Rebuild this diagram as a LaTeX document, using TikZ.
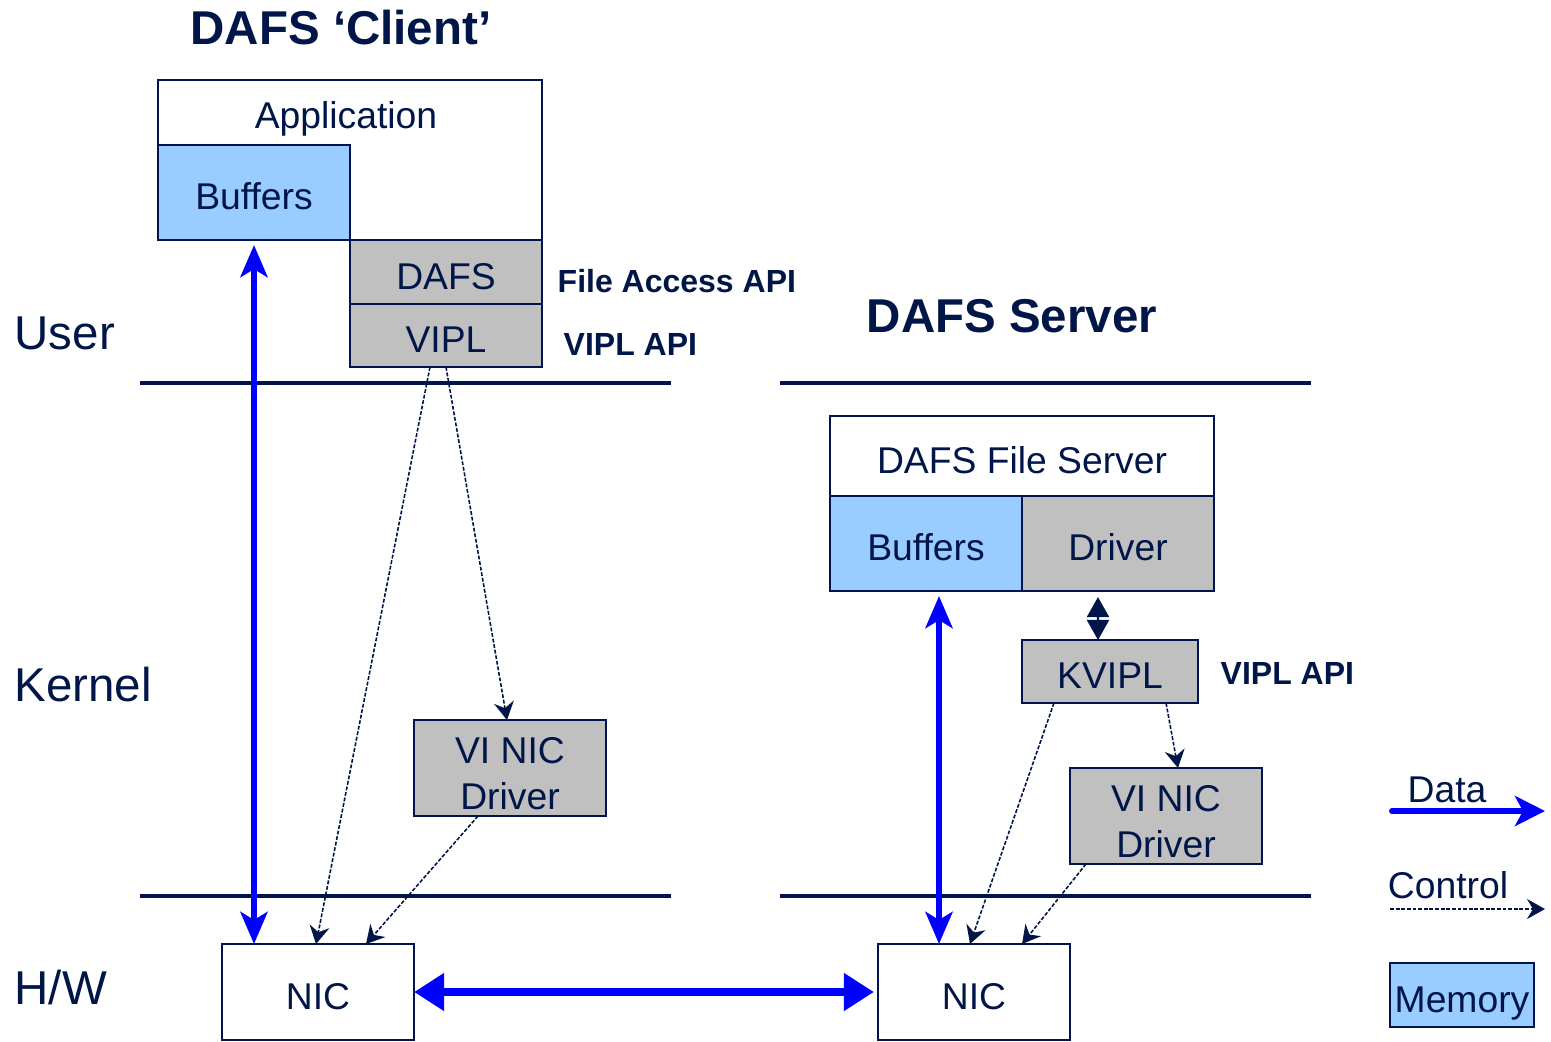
\documentclass[tikz,border=0pt]{standalone}
\usepackage{fontspec}
\setmainfont{Liberation Sans}
\usetikzlibrary{arrows.meta}
\definecolor{navy}{RGB}{0,22,72}
\definecolor{dblue}{RGB}{0,0,255}
\definecolor{mem}{RGB}{153,204,255}
\definecolor{gr}{RGB}{192,192,192}

\begin{document}
\begin{tikzpicture}[x=0.01cm,y=-0.01cm]
   \tikzset{box/.style 2 args={draw=navy,line width=0.6pt,inner sep=0pt,outer sep=0pt,minimum width=#1,minimum height=#2,text=navy,font=\fontsize{10.6}{13}\selectfont,align=center,text height=1em,text depth=0.02em},
   gbox/.style 2 args={box={#1}{#2},fill=gr},
   mbox/.style 2 args={box={#1}{#2},fill=mem},
   twoline/.style={text height=23.6pt},
   txt/.style={text=navy,inner sep=0pt,font=\fontsize{10.6}{13}\selectfont},
   api/.style={text=navy,inner sep=0pt,anchor=west,font=\fontsize{9.1}{10}\selectfont\bfseries},
   title/.style={text=navy,inner sep=0pt,font=\fontsize{13.5}{15}\selectfont\bfseries},
   layer/.style={text=navy,inner sep=0pt,anchor=west,font=\fontsize{13.5}{15}\selectfont},
   sep/.style={draw=navy,line width=1.4pt},
   data/.style={draw=dblue,line width=1.7pt,{Stealth[length=0.32cm,width=0.27cm,inset=0.08cm]}-{Stealth[length=0.32cm,width=0.27cm,inset=0.08cm]}},
   link/.style={draw=dblue,line width=2.4pt,{Triangle[length=0.3cm,width=0.36cm]}-{Triangle[length=0.3cm,width=0.36cm]}},
   ctrl/.style={draw=navy,line width=0.45pt,dash pattern=on 1.1pt off 0.5pt,-{Stealth[length=0.18cm,width=0.2cm,inset=0.06cm]}}};
\useasboundingbox (0,0) rectangle (1551,1041);

% titles and layers
\node[title] (tc) at (341,28) {DAFS ‘Client’};
\node[title] (ts) at (1012,316) {DAFS Server};
\node[layer] (usr) at (14,333) {User};
\node[layer] (krn) at (14,685) {Kernel};
\node[layer] (hw) at (14,988) {H/W};

\draw[sep] (140,383) -- (671,383);
\draw[sep] (140,896) -- (671,896);
\draw[sep] (780,383) -- (1311,383);
\draw[sep] (780,896) -- (1311,896);

% client
\node[box={3.84cm}{1.6cm}] (app) at (350,160) {};
\node[txt] (apl) at (346,119) {Application};
\node[mbox={1.92cm}{0.95cm}] (bufc) at (254,192.5) {Buffers};
\node[gbox={1.92cm}{0.64cm}] (dafs) at (446,272) {DAFS};
\node[gbox={1.92cm}{0.63cm}] (vipl) at (446,335.5) {VIPL};
\node[api] (fapi) at (557,281) {File Access API};
\node[api] (vapi) at (563,344) {VIPL API};
\node[gbox={1.92cm}{0.96cm},twoline] (vinic1) at (510,768) {VI NIC\\Driver};
\node[box={1.92cm}{0.96cm}] (nic1) at (318,992) {NIC};

% server
\node[box={3.84cm}{0.8cm}] (fsrv) at (1022,456) {DAFS File Server};
\node[mbox={1.92cm}{0.95cm}] (bufs) at (926,543.5) {Buffers};
\node[gbox={1.92cm}{0.95cm}] (drv) at (1118,543.5) {Driver};
\node[gbox={1.76cm}{0.63cm}] (kvipl) at (1110,671.5) {KVIPL};
\node[api] (kapi) at (1220,673) {VIPL API};
\node[gbox={1.92cm}{0.96cm},twoline] (vinic2) at (1166,816) {VI NIC\\Driver};
\node[box={1.92cm}{0.96cm}] (nic2) at (974,992) {NIC};

% data paths
\draw[data] ([yshift=-0.05cm]bufc.south) -- (bufc.south |- nic1.north);
\draw[data] ([xshift=0.13cm,yshift=-0.05cm]bufs.south) -- ([xshift=0.13cm]bufs.south |- nic2.north);
\draw[link] (nic1.east) -- ([xshift=-0.04cm]nic2.west);
\draw[navy,line width=0.6pt,{Triangle[length=0.2cm,width=0.22cm]}-{Triangle[length=0.2cm,width=0.22cm]}] ([xshift=-0.2cm,yshift=-0.06cm]drv.south) -- ([xshift=-0.12cm]kvipl.north);

% control paths
\draw[ctrl] ([xshift=-0.16cm]vipl.south) -- ([xshift=-0.02cm]nic1.north);
\draw[ctrl] (vipl.south) -- ([xshift=-0.03cm]vinic1.north);
\draw[ctrl] ([xshift=-0.32cm]vinic1.south) -- ([xshift=0.48cm]nic1.north);
\draw[ctrl] ([xshift=-0.56cm]kvipl.south) -- ([xshift=-0.04cm]nic2.north);
\draw[ctrl] ([xshift=0.56cm]kvipl.south) -- ([xshift=0.12cm]vinic2.north);
\draw[ctrl] ([xshift=-0.8cm]vinic2.south) -- ([xshift=0.48cm]nic2.north);

% legend
\node[txt] (ldata) at (1447,790) {Data};
\coordinate (d0) at (1392,811);
\coordinate (d1) at (1545,811);
\draw[draw=dblue,line width=1.7pt,line cap=round,-{Stealth[length=0.3cm,width=0.3cm,inset=0.08cm]}] (d0) -- (d1);
\node[txt] (lctrl) at (1448,885) {Control};
\coordinate (c0) at (1390,909);
\coordinate (c1) at (1545,909);
\draw[ctrl] (c0) -- (c1);
\node[mbox={1.44cm}{0.64cm}] (lmem) at (1462,995) {Memory};

\end{tikzpicture}
\end{document}
